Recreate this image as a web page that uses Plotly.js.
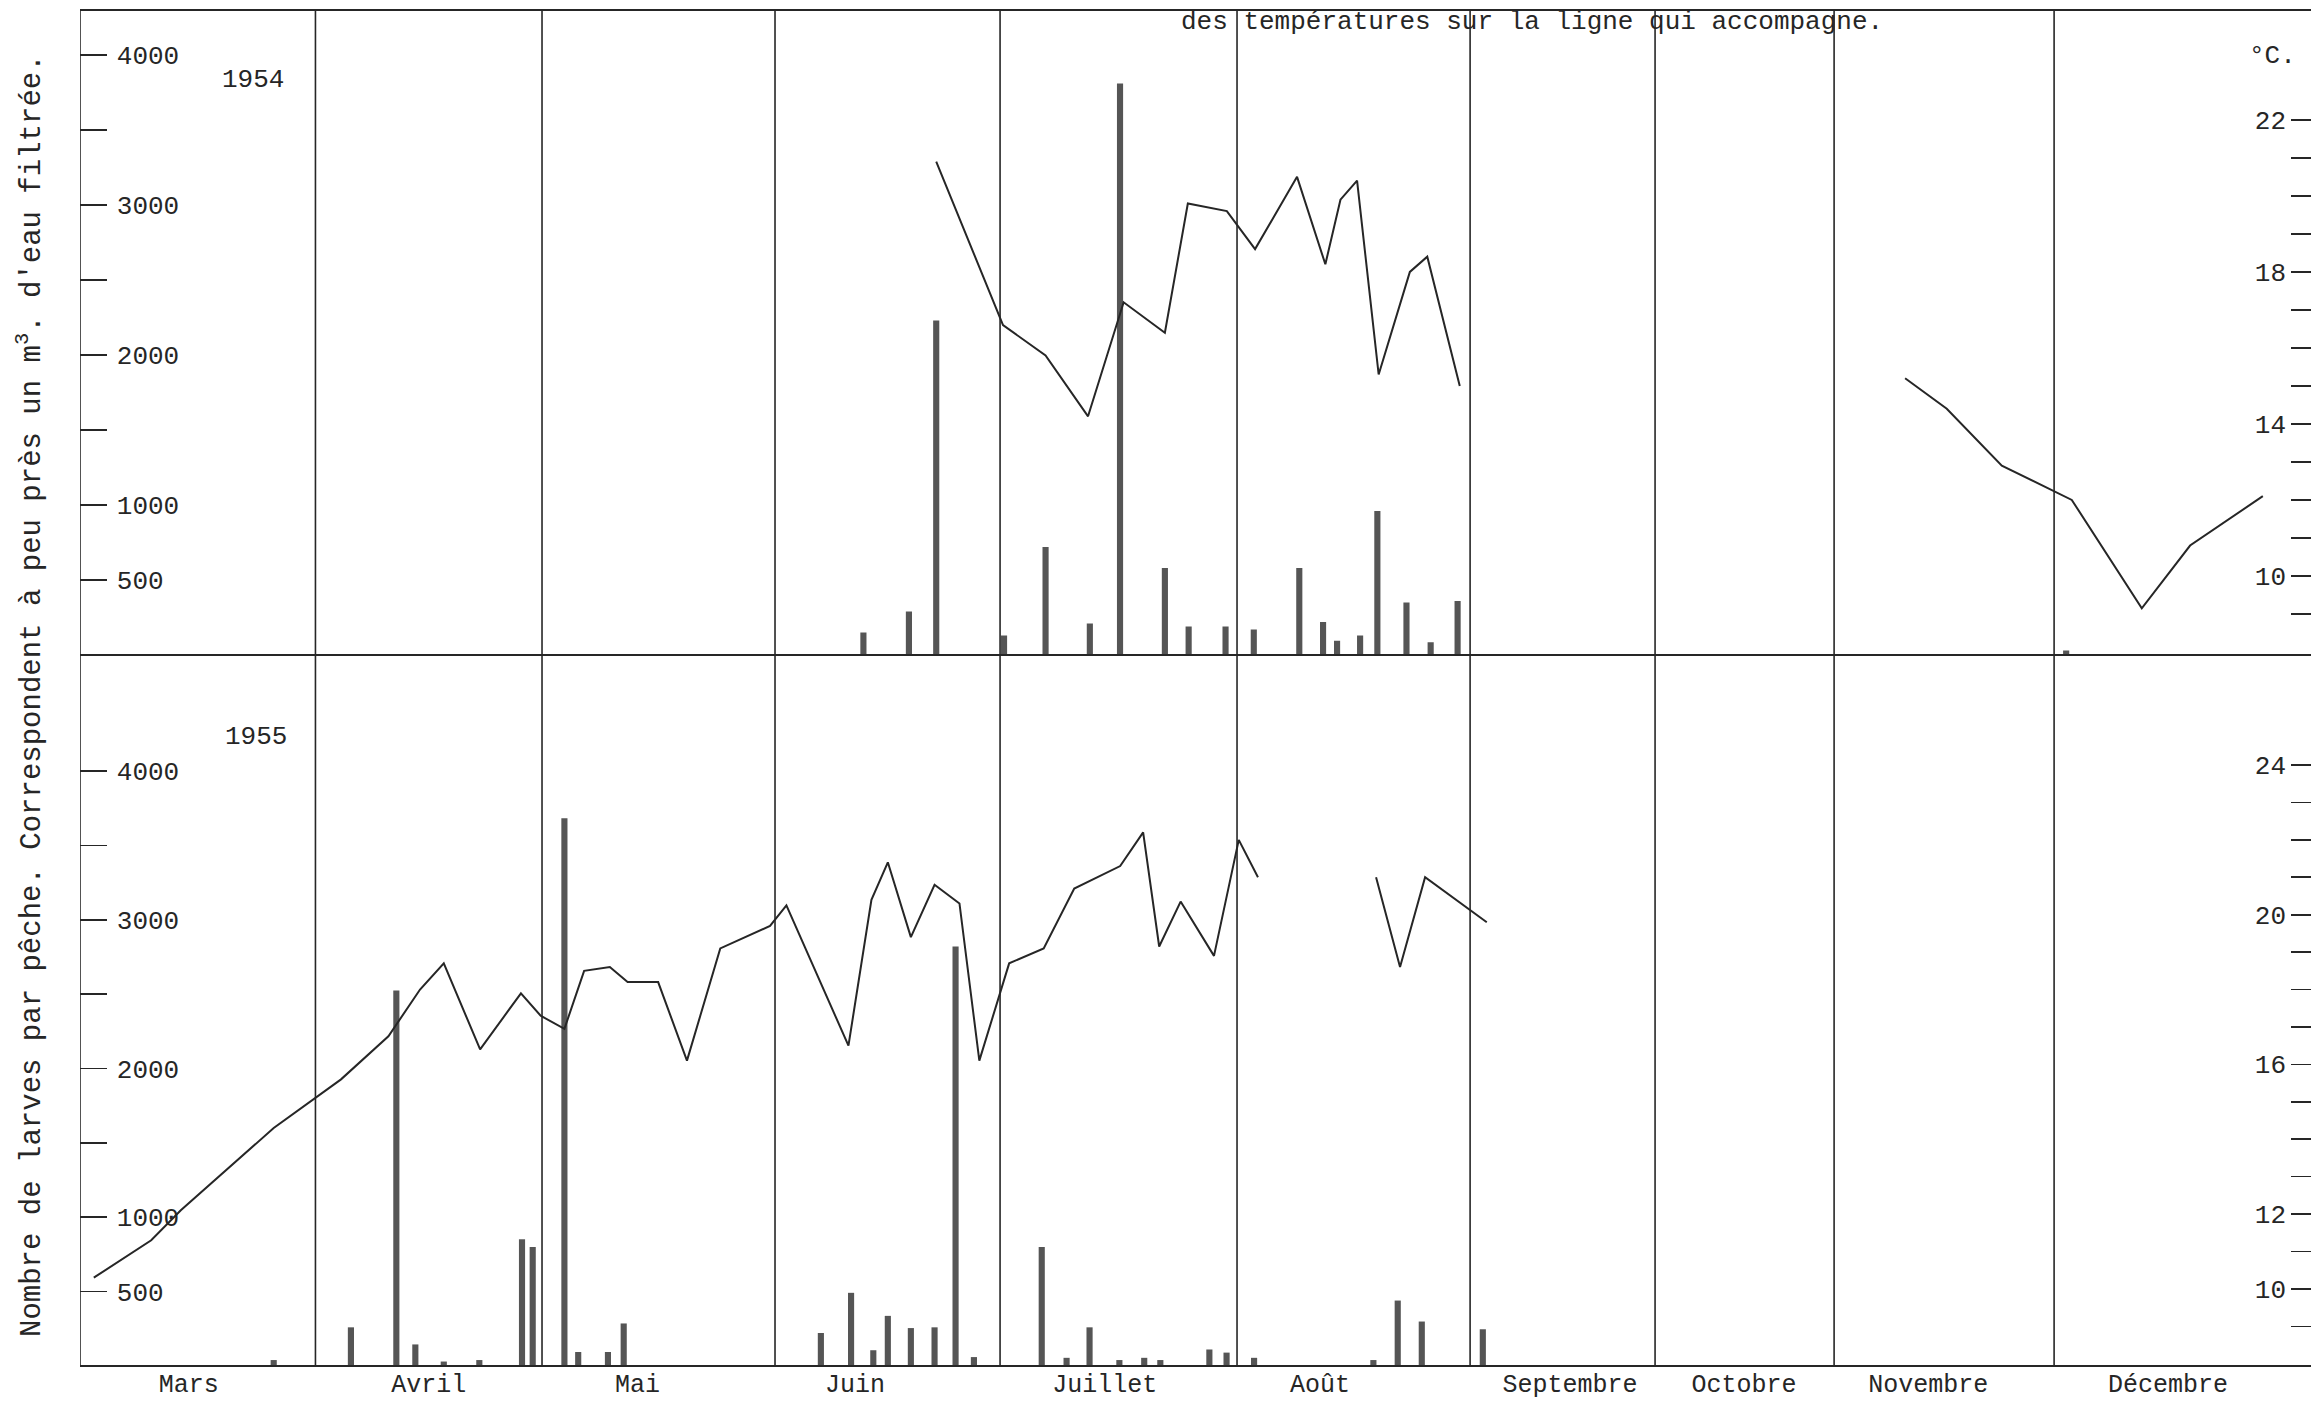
<!DOCTYPE html>
<html>
<head>
<meta charset="utf-8">
<script src="https://cdn.plot.ly/plotly-3.0.1.min.js"></script>
<style>
html,body{margin:0;padding:0;background:#fff;}
#chart{width:2311px;height:1401px;}
</style>
</head>
<body>
<div id="chart"></div>
<script>
// x unit: position along the season scale of the drawing (Mar 1 = 0)
var months = ["Mars","Avril","Mai","Juin","Juillet","Août","Septembre","Octobre","Novembre","Décembre"];
var monthLabelPos = [15.05, 48.3, 77.2, 107.3, 141.9, 171.7, 206.3, 230.4, 255.9, 289.1];
var monthStarts = [0, 32.6, 63.97, 96.23, 127.39, 160.2, 192.47, 218.08, 242.87, 273.33];

// 1954 – larvae per haul
var bars54X = [108.47, 114.77, 118.55, 127.94, 133.69, 139.82, 144.0, 150.21, 153.5, 158.61, 162.52, 168.82, 172.11, 174.05, 177.24, 179.63, 183.66, 187.01, 190.74, 275.0];
var bars54Y = [150, 290, 2230, 130, 720, 210, 3810, 580, 190, 190, 170, 580, 220, 95, 130, 960, 350, 85, 360, 30];

// 1954 – temperature (°C)
var temp54aX = [118.55, 127.8, 133.69, 139.57, 144.5, 150.21, 153.39, 158.79, 162.7, 168.51, 172.43, 174.52, 176.82, 179.81, 184.13, 186.54, 191.04];
var temp54aY = [20.9, 16.6, 15.8, 14.2, 17.2, 16.4, 19.8, 19.6, 18.6, 20.5, 18.2, 19.9, 20.4, 15.3, 18.0, 18.4, 15.0];
var temp54bX = [252.7, 258.47, 266.09, 275.78, 285.47, 292.16, 302.23];
var temp54bY = [15.2, 14.4, 12.9, 12.0, 9.15, 10.8, 12.1];

// 1955 – larvae per haul
var bars55X = [26.82, 37.51, 43.8, 46.43, 50.37, 55.29, 61.2, 62.68, 67.07, 68.98, 73.1, 75.28, 102.58, 106.76, 109.84, 111.85, 115.04, 118.32, 121.23, 123.77, 133.16, 136.6, 139.78, 143.91, 147.35, 149.58, 156.37, 158.75, 162.56, 179.08, 182.45, 185.78, 194.23];
var bars55Y = [40, 260, 2524, 145, 30, 40, 852, 800, 3682, 94, 94, 286, 222, 492, 106, 337, 255, 260, 2820, 60, 800, 55, 260, 40, 55, 40, 111, 90, 55, 40, 440, 299, 247];

// 1955 – temperature (°C)
var temp55aX = [1.91, 9.86, 13.96, 26.82, 36.14, 42.7, 47.08, 50.37, 55.4, 61.05, 63.78, 67.07, 69.8, 73.36, 75.82, 80.05, 84.04, 88.65, 95.54, 97.81, 106.4, 109.58, 111.85, 115.04, 118.32, 121.77, 124.52, 128.65, 133.43, 137.66, 144.02, 147.2, 149.42, 152.39, 157.01, 160.44, 163.1];
var temp55aY = [10.3, 11.3, 12.1, 14.3, 15.6, 16.75, 18.0, 18.7, 16.4, 17.9, 17.3, 16.95, 18.5, 18.6, 18.2, 18.2, 16.1, 19.1, 19.7, 20.25, 16.5, 20.4, 21.4, 19.4, 20.8, 20.3, 16.1, 18.7, 19.1, 20.7, 21.3, 22.2, 19.15, 20.35, 18.9, 22.0, 21.0];
var temp55bX = [179.45, 182.77, 186.24, 194.78];
var temp55bY = [21.0, 18.6, 21.0, 19.8];

// axis tick definitions
var larvTicks = [500, 1000, 2000, 3000, 4000];
var larvMinor = [1500, 2500, 3500];
var temp54Ticks = [10, 14, 18, 22];
var temp54Minor = [9, 11, 12, 13, 15, 16, 17, 19, 20, 21];
var temp55Ticks = [10, 12, 16, 20, 24];
var temp55Minor = [9, 11, 13, 14, 15, 17, 18, 19, 21, 22, 23];

var FONT = "Liberation Mono, Courier New, monospace";
var INK = "#262626";
var barColor = "#555555";

var traces = [
  {type:"bar", x:bars54X, y:bars54Y, xaxis:"x2", yaxis:"y3", width:0.85,
   marker:{color:barColor, line:{width:0}}, hoverinfo:"skip"},
  {type:"scatter", mode:"lines", x:temp54aX, y:temp54aY, xaxis:"x2", yaxis:"y4",
   line:{color:INK, width:2}},
  {type:"scatter", mode:"lines", x:temp54bX, y:temp54bY, xaxis:"x2", yaxis:"y4",
   line:{color:INK, width:2}},
  {type:"bar", x:bars55X, y:bars55Y, xaxis:"x", yaxis:"y", width:0.85,
   marker:{color:barColor, line:{width:0}}, hoverinfo:"skip"},
  {type:"scatter", mode:"lines", x:temp55aX, y:temp55aY, xaxis:"x", yaxis:"y2",
   line:{color:INK, width:2}},
  {type:"scatter", mode:"lines", x:temp55bX, y:temp55bY, xaxis:"x", yaxis:"y2",
   line:{color:INK, width:2}}
];

var XR = [0, 308.9];
var splitY = 711/1356;

var shapes = [];
monthStarts.forEach(function(m){
  shapes.push({type:"line", xref:"x", yref:"paper", x0:m, x1:m, y0:0, y1:1,
               line:{color:INK, width:1.6}});
});
[0, splitY, 1].forEach(function(p){
  shapes.push({type:"line", xref:"paper", yref:"paper", x0:0, x1:1, y0:p, y1:p,
               line:{color:INK, width:1.8}});
});

function leftAxis(domain, range, anchor){
  return {domain:domain, range:range, anchor:anchor, showgrid:false, zeroline:false, showline:false,
    tickmode:"array", tickvals:larvTicks, ticktext:larvTicks.map(String),
    ticks:"inside", ticklen:27, tickwidth:1.6, tickcolor:INK,
    minor:{tickmode:"array", tickvals:larvMinor, ticks:"inside", ticklen:27, tickwidth:1.6, tickcolor:INK, showgrid:false},
    ticklabelposition:"inside", ticklabelstandoff:12,
    tickfont:{family:FONT, size:26, color:INK}, fixedrange:true};
}
function rightAxis(over, range, vals, minorVals){
  return {overlaying:over, range:range, side:"left", anchor:"free", position:(2290-80)/2231,
    showgrid:false, zeroline:false, showline:false,
    tickmode:"array", tickvals:vals, ticktext:vals.map(String),
    ticks:"inside", ticklen:20, tickwidth:1.6, tickcolor:INK, ticklabelstandoff:4,
    minor:{tickmode:"array", tickvals:minorVals, ticks:"inside", ticklen:20, tickwidth:1.6, tickcolor:INK, showgrid:false},
    tickfont:{family:FONT, size:26, color:INK}, fixedrange:true};
}

var layout = {
  width:2311, height:1401,
  margin:{l:80, r:0, t:10, b:35},
  paper_bgcolor:"#ffffff", plot_bgcolor:"#ffffff",
  showlegend:false, barmode:"overlay",
  font:{family:FONT, size:26, color:INK},
  xaxis:{range:XR, anchor:"y", showgrid:false, zeroline:false, showline:false,
         tickmode:"array", tickvals:monthLabelPos, ticktext:months, ticks:"",
         ticklabelstandoff:0, tickfont:{family:FONT, size:25, color:INK}, fixedrange:true},
  xaxis2:{range:XR, anchor:"y3", matches:"x", showgrid:false, zeroline:false, showline:false,
          showticklabels:false, ticks:"", fixedrange:true},
  yaxis: leftAxis([0, splitY], [0, 4780], "x"),
  yaxis2: rightAxis("y", [7.94, 26.94], temp55Ticks, temp55Minor),
  yaxis3: leftAxis([splitY, 1], [0, 4300], "x2"),
  yaxis4: rightAxis("y3", [7.92, 24.89], temp54Ticks, temp54Minor),
  shapes:shapes,
  annotations:[
    {text:"1954", xref:"paper", yref:"paper", x:(253-80)/2231, y:(1366-80)/1356,
     showarrow:false, xanchor:"center", yanchor:"middle", font:{family:FONT, size:26, color:INK}},
    {text:"1955", xref:"paper", yref:"paper", x:(256-80)/2231, y:(1366-737)/1356,
     showarrow:false, xanchor:"center", yanchor:"middle", font:{family:FONT, size:26, color:INK}},
    {text:"°C.", xref:"paper", yref:"paper", x:(2272-80)/2231, y:(1366-56)/1356,
     showarrow:false, xanchor:"center", yanchor:"middle", font:{family:FONT, size:26, color:INK}},
    {text:"des températures sur la ligne qui accompagne.", xref:"paper", yref:"paper",
     x:(1532-80)/2231, y:(1366-22)/1356, showarrow:false, xanchor:"center", yanchor:"middle",
     font:{family:FONT, size:26, color:INK}},
    {text:"Nombre de larves par pêche. Correspondent à peu près un m<sup>3</sup>. d'eau filtrée.",
     xref:"paper", yref:"paper", x:(30-80)/2231, y:(1366-696)/1356, textangle:-90,
     showarrow:false, xanchor:"center", yanchor:"middle", font:{family:FONT, size:29, color:INK}}
  ]
};

Plotly.newPlot("chart", traces, layout, {staticPlot:true, displayModeBar:false});
</script>
</body>
</html>
